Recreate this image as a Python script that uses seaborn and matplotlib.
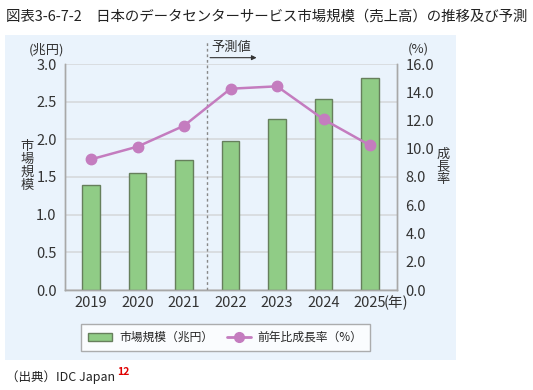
import numpy as np
import pandas as pd
import matplotlib
matplotlib.use('Agg')
import matplotlib.pyplot as plt
import seaborn as sns
from matplotlib.patches import Rectangle, Patch
from matplotlib.lines import Line2D

# data
years = ['2019', '2020', '2021', '2022', '2023', '2024', '2025']
market_size = [1.40, 1.55, 1.73, 1.98, 2.27, 2.53, 2.81]   # 兆円
growth_rate = [9.25, 10.15, 11.63, 14.25, 14.42, 12.08, 10.24]  # %

df = pd.DataFrame({'year': years, 'size': market_size, 'growth': growth_rate})

sns.set_style('white')
plt.rcParams['font.family'] = ['Noto Sans CJK JP', 'DejaVu Sans']

bg = '#eaf3fc'
green = '#90cc86'
edge = '#667f5c'
pink = '#c47cbf'
grid_c = '#d6d9dc'
spine_c = '#a8a8a8'
txt = '#333333'

fig = plt.figure(figsize=(5.33, 3.9), dpi=100)
fig.patch.set_facecolor('white')
fig.patches.append(Rectangle((5 / 533, 1 - 360 / 390), 451 / 533, 325 / 390,
                             transform=fig.transFigure, facecolor=bg, edgecolor='none', zorder=-5))

ax = fig.add_axes([65 / 533, 1 - 290 / 390, 332 / 533, 226 / 390])
ax.set_facecolor('none')
sns.barplot(data=df, x='year', y='size', color=green, width=0.38,
            edgecolor=edge, linewidth=1, saturation=1, ax=ax, zorder=3)

ax2 = ax.twinx()
ax2.set_facecolor('none')
ax2.plot(range(len(years)), df['growth'], color=pink, lw=1.8, marker='o', ms=7.5, zorder=4)

ax.set_xlim(-0.56, 6.58)
ax.set_ylim(0, 3.0)
ax2.set_ylim(0, 16)
ax.set_yticks(np.arange(0, 3.01, 0.5))
ax2.set_yticks(np.arange(0, 16.1, 2))
ax.set_yticklabels([f'{v:.1f}' for v in np.arange(0, 3.01, 0.5)])
ax2.set_yticklabels([f'{v:.1f}' for v in np.arange(0, 16.1, 2)])
ax.yaxis.grid(True, color=grid_c, lw=1.2, zorder=0)
ax.set_axisbelow(True)
ax.set_xlabel('')
ax.set_ylabel('')

ax.set_xticks(range(len(years)))
ax.set_xticklabels(years)
ax.set_xticks(np.arange(0.5, 6, 1), minor=True)
ax.tick_params(axis='x', which='major', length=0, pad=4, labelsize=10.5, labelcolor=txt)
ax.tick_params(axis='x', which='minor', length=4, direction='in', color=spine_c, width=1)
ax.tick_params(axis='y', length=0, pad=6, labelsize=10.5, labelcolor=txt)
ax2.tick_params(axis='y', length=0, pad=6, labelsize=10.5, labelcolor=txt)

for a in (ax, ax2):
    for s in ['left', 'right', 'bottom']:
        a.spines[s].set_color(spine_c)
        a.spines[s].set_linewidth(1)
    a.spines['top'].set_visible(False)

ax.annotate('(年)', xy=(6, 0), xycoords=('data', 'axes fraction'), xytext=(10, -4),
            textcoords='offset points', ha='left', va='top', fontsize=10.5, color=txt)

# forecast marker
ax.axvline(2.5, ymin=0, ymax=1.097, clip_on=False, color='#888888', lw=1, ls=(0, (2, 2)), zorder=5)
ax.annotate('', xy=(3.62, 1.028), xycoords=('data', 'axes fraction'),
            xytext=(2.5, 1.028), textcoords=('data', 'axes fraction'),
            arrowprops=dict(arrowstyle='-|>', color='#333333', lw=0.8, mutation_scale=7))
ax.text(2.58, 1.075, '予測値', transform=ax.get_xaxis_transform(), ha='left', va='center',
        fontsize=9.5, color=txt)

# axis titles
fig.text(47 / 533, 1 - 50 / 390, '(兆円)', ha='center', va='center', fontsize=9.5, color=txt)
fig.text(418 / 533, 1 - 49 / 390, '(%)', ha='center', va='center', fontsize=9.5, color=txt)
fig.text(27 / 533, 1 - 166 / 390, '\n'.join('市場規模'), ha='center', va='center',
         fontsize=9.5, linespacing=1.0, color=txt)
fig.text(443 / 533, 1 - 167 / 390, '\n'.join('成長率'), ha='center', va='center',
         fontsize=9.5, linespacing=1.0, color=txt)

# title and source
fig.text(6 / 533, 1 - 17 / 390, '図表3-6-7-2　日本のデータセンターサービス市場規模（売上高）の推移及び予測',
         ha='left', va='center', fontsize=10.4, color='#222222')
fig.text(6 / 533, 1 - 377 / 390, '（出典）IDC Japan', ha='left', va='center', fontsize=9, color='#222222')
fig.text(117 / 533, 1 - 372 / 390, '12', ha='left', va='center', fontsize=7.5,
         color='#e00000', fontweight='bold')

handles = [Patch(facecolor=green, edgecolor=edge, lw=1),
           Line2D([0], [0], color=pink, lw=2, marker='o', ms=7)]
leg = fig.legend(handles, ['市場規模（兆円）', '前年比成長率（%）'], loc='center',
                 bbox_to_anchor=(225.5 / 533, 1 - 337.5 / 390), ncol=2, frameon=True,
                 fancybox=False, edgecolor='#999999', facecolor='white', fontsize=8.5,
                 handlelength=2.0, columnspacing=1.2, borderpad=0.6, handletextpad=0.6)
leg.get_frame().set_linewidth(1)

fig.savefig('out.png', dpi=100)
